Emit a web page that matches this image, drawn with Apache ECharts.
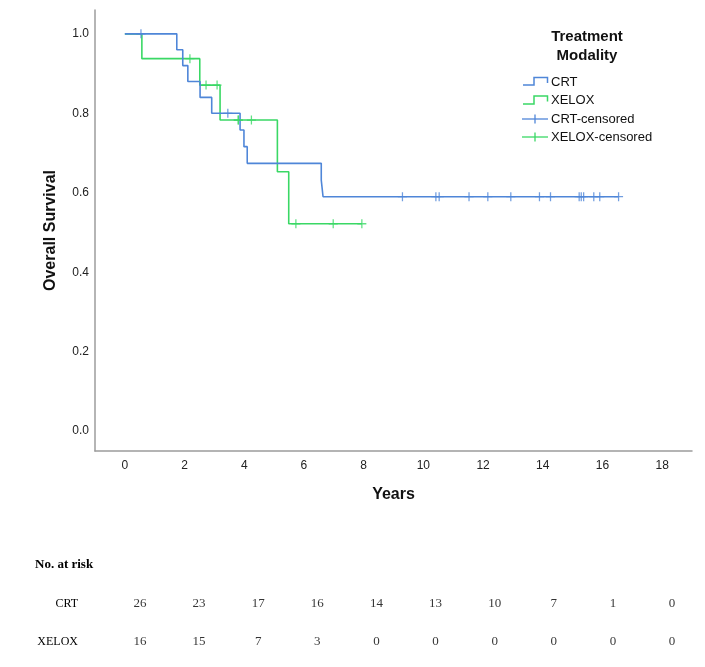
<!DOCTYPE html>
<html>
<head>
<meta charset="utf-8">
<script src="https://cdn.jsdelivr.net/npm/echarts@6/dist/echarts.min.js"></script>
<style>html,body{margin:0;padding:0;background:#fff}#c{width:705px;height:667px}</style>
</head>
<body>
<div id="c"></div>
<script>
// Kaplan-Meier step points [years, survival]
var crtSteps = [[0,1.0],[1.74,0.96],[1.94,0.92],[2.11,0.88],[2.52,0.84],[2.91,0.80],[3.86,0.758],[3.99,0.716],[4.10,0.674],[6.58,0.632],[6.64,0.590],[16.54,0.590]];
var xeloxSteps = [[0,1.0],[0.57,0.9375],[2.51,0.871],[3.19,0.783],[5.11,0.653],[5.49,0.522],[7.94,0.522]];
// censored observations [years, survival]
var crtCensored = [[0.54,1.0],[3.45,0.80],[9.30,0.590],[10.42,0.590],[10.53,0.590],[11.53,0.590],[12.16,0.590],[12.93,0.590],[13.89,0.590],[14.26,0.590],[15.22,0.590],[15.29,0.590],[15.37,0.590],[15.71,0.590],[15.91,0.590],[16.54,0.590]];
var xeloxCensored = [[2.18,0.9375],[2.72,0.871],[3.09,0.871],[3.80,0.783],[3.80,0.783],[4.24,0.783],[5.73,0.522],[6.98,0.522],[7.94,0.522]];
// number at risk table
var riskTimes = [0,2,4,6,8,10,12,14,16,18];
var riskCRT = [26,23,17,16,14,13,10,7,1,0];
var riskXELOX = [16,15,7,3,0,0,0,0,0,0];
var groups = ['CRT','XELOX'];
var xTicks = [0,2,4,6,8,10,12,14,16,18];
var yTicks = [0.0,0.2,0.4,0.6,0.8,1.0];

var BLUE = '#4f86d8', GREEN = '#3ad865';
var SANS = 'Liberation Sans, Arial, sans-serif';
var SERIF = 'Liberation Serif, Times New Roman, serif';
var plus = 'path://M4.3,0H5.7V4.3H10V5.7H5.7V10H4.3V5.7H0V4.3H4.3Z';

var riskData = [];
riskTimes.forEach(function(t,i){
  riskData.push([t,groups[0],riskCRT[i]]);
  riskData.push([t,groups[1],riskXELOX[i]]);
});

var chart = echarts.init(document.getElementById('c'), null, {renderer:'canvas'});
chart.setOption({
  animation:false,
  backgroundColor:'#fff',
  grid:[
    {left:95, right:13, top:10, bottom:216},
    {left:140, width:532, top:585, height:76}
  ],
  xAxis:[{
    gridIndex:0, type:'value', min:-1, max:19, interval:1,
    splitLine:{show:false}, axisTick:{show:false},
    axisLine:{show:true, onZero:false, lineStyle:{color:'#9c9c9c', width:1.5}},
    axisLabel:{margin:9, color:'#222', fontFamily:SANS, fontSize:12,
      formatter:function(v){ return xTicks.indexOf(Math.round(v))>=0 && Math.abs(v-Math.round(v))<1e-6 ? String(Math.round(v)) : ''; }},
    name:'Years', nameLocation:'middle', nameGap:36,
    nameTextStyle:{fontFamily:SANS, fontWeight:'bold', fontSize:16, color:'#111'}
  },{
    gridIndex:1, type:'value', min:0, max:18, show:false
  }],
  yAxis:[{
    gridIndex:0, type:'value', min:-0.05, max:1.06, interval:0.05,
    splitLine:{show:false}, axisTick:{show:false},
    axisLine:{show:true, onZero:false, lineStyle:{color:'#9c9c9c', width:1.5}},
    axisLabel:{margin:6, color:'#222', fontFamily:SANS, fontSize:12, showMaxLabel:false,
      formatter:function(v){
        for(var i=0;i<yTicks.length;i++){ if(Math.abs(v-yTicks[i])<1e-6) return yTicks[i].toFixed(1); }
        return '';
      }},
    name:'Overall Survival', nameLocation:'middle', nameGap:36,
    nameTextStyle:{fontFamily:SANS, fontWeight:'bold', fontSize:16, color:'#111'}
  },{
    gridIndex:1, type:'category', data:['XELOX','CRT'],
    axisLine:{show:false}, axisTick:{show:false}, splitLine:{show:false},
    axisLabel:{show:true, margin:62, align:'right', fontFamily:SERIF, fontSize:12, color:'#000'}
  }],
  series:[
    {name:'CRT', type:'line', step:'end', data:crtSteps, xAxisIndex:0, yAxisIndex:0,
      showSymbol:false, lineStyle:{color:BLUE, width:1.6}, itemStyle:{color:BLUE}, z:3},
    {name:'XELOX', type:'line', step:'end', data:xeloxSteps, xAxisIndex:0, yAxisIndex:0,
      showSymbol:false, lineStyle:{color:GREEN, width:1.6}, itemStyle:{color:GREEN}, z:2},
    {name:'CRT-censored', type:'scatter', data:crtCensored, xAxisIndex:0, yAxisIndex:0,
      symbol:plus, symbolSize:[9,9], itemStyle:{color:BLUE}, z:4},
    {name:'XELOX-censored', type:'scatter', data:xeloxCensored, xAxisIndex:0, yAxisIndex:0,
      symbol:plus, symbolSize:[9,9], itemStyle:{color:GREEN}, z:4},
    {name:'risk', type:'scatter', data:riskData, xAxisIndex:1, yAxisIndex:1,
      symbolSize:0, silent:true,
      label:{show:true, position:'inside', formatter:function(p){return String(p.value[2]);},
        fontFamily:SERIF, fontSize:13, color:'#000'}}
  ],
  graphic:[
    {type:'text', left:35, top:558, style:{text:'No. at risk', font:'bold 13px '+SERIF, fill:'#000'}},
    {type:'text', x:587, y:37, style:{text:'Treatment', font:'bold 15px '+SANS, fill:'#111', textAlign:'center', textVerticalAlign:'middle'}},
    {type:'text', x:587, y:56, style:{text:'Modality', font:'bold 15px '+SANS, fill:'#111', textAlign:'center', textVerticalAlign:'middle'}},
    {type:'polyline', shape:{points:[[523,85],[534,85],[534,77.5],[547.5,77.5],[547.5,83]]}, style:{stroke:BLUE, lineWidth:1.5, fill:null}},
    {type:'text', x:551, y:82, style:{text:'CRT', font:'13px '+SANS, fill:'#111', textVerticalAlign:'middle'}},
    {type:'polyline', shape:{points:[[523,104],[534,104],[534,96],[547.5,96],[547.5,101.5]]}, style:{stroke:GREEN, lineWidth:1.5, fill:null}},
    {type:'text', x:551, y:100, style:{text:'XELOX', font:'13px '+SANS, fill:'#111', textVerticalAlign:'middle'}},
    {type:'line', shape:{x1:522,y1:119,x2:548,y2:119}, style:{stroke:BLUE, lineWidth:1.3}},
    {type:'line', shape:{x1:535,y1:114.5,x2:535,y2:123.5}, style:{stroke:BLUE, lineWidth:1.3}},
    {type:'text', x:551, y:119, style:{text:'CRT-censored', font:'13px '+SANS, fill:'#111', textVerticalAlign:'middle'}},
    {type:'line', shape:{x1:522,y1:137,x2:548,y2:137}, style:{stroke:GREEN, lineWidth:1.3}},
    {type:'line', shape:{x1:535,y1:132.5,x2:535,y2:141.5}, style:{stroke:GREEN, lineWidth:1.3}},
    {type:'text', x:551, y:137, style:{text:'XELOX-censored', font:'13px '+SANS, fill:'#111', textVerticalAlign:'middle'}}
  ]
});
</script>
</body>
</html>
